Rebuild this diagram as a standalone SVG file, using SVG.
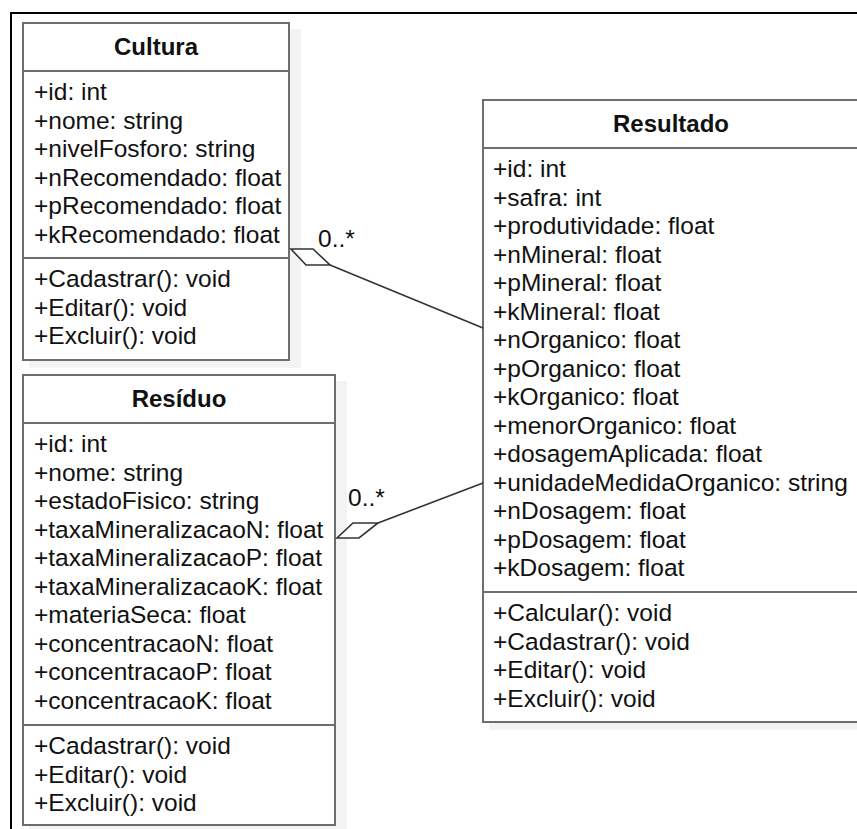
<svg xmlns="http://www.w3.org/2000/svg" width="857" height="829" viewBox="0 0 857 829">
<style>
.box{fill:#fff;stroke:#6e6e6e;stroke-width:2}
.shadow{fill:#f3f3f3}
.div{stroke:#6e6e6e;stroke-width:2}
.t{font-family:"Liberation Sans",Arial,sans-serif;font-size:24.5px;fill:#111}
.h{font-family:"Liberation Sans",Arial,sans-serif;font-size:24px;font-weight:bold;fill:#111;text-anchor:middle}
.conn{stroke:#333;stroke-width:1.6;fill:none}
.dia{stroke:#333;stroke-width:1.6;fill:#fff;stroke-linejoin:miter}
</style>
<rect width="857" height="829" fill="#fff"/>
<path d="M11 829 V13 H857" fill="none" stroke="#000" stroke-width="2"/>

<g id="Cultura">
<rect class="shadow" x="29" y="29" width="272" height="339"/>
<rect class="box" x="23" y="23" width="266" height="337"/>
<line class="div" x1="23" y1="71" x2="289" y2="71"/>
<line class="div" x1="23" y1="258" x2="289" y2="258"/>
<text class="h" x="156" y="55">Cultura</text>
<text class="t" x="34" y="100">+id: int</text>
<text class="t" x="34" y="128.5">+nome: string</text>
<text class="t" x="34" y="157">+nivelFosforo: string</text>
<text class="t" x="34" y="185.5">+nRecomendado: float</text>
<text class="t" x="34" y="214">+pRecomendado: float</text>
<text class="t" x="34" y="242.5">+kRecomendado: float</text>
<text class="t" x="34" y="287">+Cadastrar(): void</text>
<text class="t" x="34" y="315.5">+Editar(): void</text>
<text class="t" x="34" y="344">+Excluir(): void</text>
</g>

<g id="Residuo">
<rect class="shadow" x="29" y="381" width="318" height="452"/>
<rect class="box" x="23" y="375" width="312" height="450"/>
<line class="div" x1="23" y1="423" x2="335" y2="423"/>
<line class="div" x1="23" y1="725" x2="335" y2="725"/>
<text class="h" x="179" y="407">Resíduo</text>
<text class="t" x="34" y="452">+id: int</text>
<text class="t" x="34" y="480.5">+nome: string</text>
<text class="t" x="34" y="509">+estadoFisico: string</text>
<text class="t" x="34" y="537.5">+taxaMineralizacaoN: float</text>
<text class="t" x="34" y="566">+taxaMineralizacaoP: float</text>
<text class="t" x="34" y="594.5">+taxaMineralizacaoK: float</text>
<text class="t" x="34" y="623">+materiaSeca: float</text>
<text class="t" x="34" y="651.5">+concentracaoN: float</text>
<text class="t" x="34" y="680">+concentracaoP: float</text>
<text class="t" x="34" y="708.5">+concentracaoK: float</text>
<text class="t" x="34" y="754">+Cadastrar(): void</text>
<text class="t" x="34" y="782.5">+Editar(): void</text>
<text class="t" x="34" y="811">+Excluir(): void</text>
</g>

<g id="Resultado">
<rect class="shadow" x="489" y="106" width="376" height="624"/>
<rect class="box" x="483" y="100" width="376" height="622"/>
<line class="div" x1="483" y1="148" x2="859" y2="148"/>
<line class="div" x1="483" y1="592" x2="859" y2="592"/>
<text class="h" x="671" y="132">Resultado</text>
<text class="t" x="493" y="177">+id: int</text>
<text class="t" x="493" y="205.5">+safra: int</text>
<text class="t" x="493" y="234">+produtividade: float</text>
<text class="t" x="493" y="262.5">+nMineral: float</text>
<text class="t" x="493" y="291">+pMineral: float</text>
<text class="t" x="493" y="319.5">+kMineral: float</text>
<text class="t" x="493" y="348">+nOrganico: float</text>
<text class="t" x="493" y="376.5">+pOrganico: float</text>
<text class="t" x="493" y="405">+kOrganico: float</text>
<text class="t" x="493" y="433.5">+menorOrganico: float</text>
<text class="t" x="493" y="462">+dosagemAplicada: float</text>
<text class="t" x="493" y="490.5">+unidadeMedidaOrganico: string</text>
<text class="t" x="493" y="519">+nDosagem: float</text>
<text class="t" x="493" y="547.5">+pDosagem: float</text>
<text class="t" x="493" y="576">+kDosagem: float</text>
<text class="t" x="493" y="621">+Calcular(): void</text>
<text class="t" x="493" y="649.5">+Cadastrar(): void</text>
<text class="t" x="493" y="678">+Editar(): void</text>
<text class="t" x="493" y="706.5">+Excluir(): void</text>
</g>

<g id="connectors">
<line class="conn" x1="330" y1="265" x2="483" y2="328"/>
<polygon class="dia" points="291,249 313,249 330,265 306,265"/>
<text class="t" x="318" y="247">0..*</text>
<line class="conn" x1="378" y1="523" x2="483" y2="483"/>
<polygon class="dia" points="337,538 359,538 378,523 353,523"/>
<text class="t" x="348" y="506">0..*</text>
</g>
</svg>
